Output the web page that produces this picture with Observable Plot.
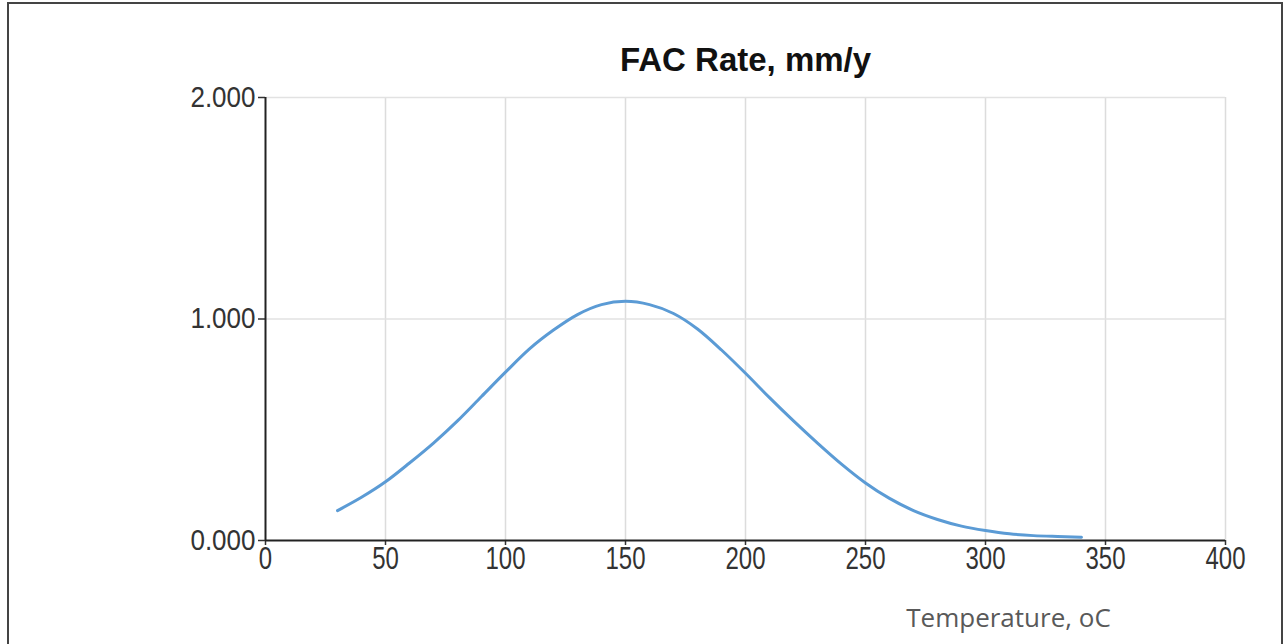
<!DOCTYPE html>
<html>
<head>
<meta charset="utf-8">
<script src="https://cdn.jsdelivr.net/npm/d3@7"></script>
<script src="https://cdn.jsdelivr.net/npm/@observablehq/plot@0.6"></script>
<style>
html, body { margin: 0; padding: 0; background: #fff; }
#wrap { position: relative; width: 1285px; height: 644px; overflow: hidden; background: #fff; }
#frame { position: absolute; left: 7px; top: 2px; width: 1272px; height: 700px; border: 2px solid #444; pointer-events: none; }
#wrap svg { position: absolute; left: 0; top: 0; }
</style>
</head>
<body>
<div id="wrap"><div id="frame"></div></div>
<script>
// Data
const temperature = [30, 40, 50, 60, 70, 80, 90, 100, 110, 120, 130, 140, 150, 160, 170, 180, 190, 200, 210, 220, 230, 240, 250, 260, 270, 280, 290, 300, 310, 320, 330, 340];
const facRate = [0.135, 0.195, 0.265, 0.35, 0.44, 0.54, 0.65, 0.76, 0.865, 0.95, 1.02, 1.065, 1.08, 1.065, 1.025, 0.955, 0.86, 0.755, 0.645, 0.54, 0.44, 0.345, 0.26, 0.19, 0.135, 0.095, 0.065, 0.045, 0.03, 0.022, 0.018, 0.015];
const xTicks = [0, 50, 100, 150, 200, 250, 300, 350, 400];
const yTicks = [0, 1, 2];
const titleText = "FAC Rate, mm/y";
const xLabelText = "Temperature, oC";

const data = temperature.map((t, i) => ({ t, r: facRate[i] }));

const chart = Plot.plot({
  width: 1285,
  height: 644,
  marginLeft: 265,
  marginRight: 60,
  marginTop: 97,
  marginBottom: 104,
  style: { background: "transparent", fontFamily: "'Liberation Sans', Arial, sans-serif", overflow: "visible" },
  x: { domain: [0, 400] },
  y: { domain: [0, 2] },
  marks: [
    Plot.gridX({ ticks: xTicks.filter(d => d > 0), stroke: "#dcdcdc", strokeOpacity: 1, strokeWidth: 1.5 }),
    Plot.gridY({ ticks: yTicks.filter(d => d > 0), stroke: "#e2e2e2", strokeOpacity: 1, strokeWidth: 1.5 }),
    Plot.axisY({ ticks: yTicks, tickFormat: d3.format(".3f"), tickSize: 7, tickPadding: 3, fontSize: 26, color: "#333", strokeWidth: 1.5, label: null }),
    Plot.axisX({ ticks: xTicks, tickFormat: d => String(d), tickSize: 5, tickPadding: 1, fontSize: 24, color: "#333", strokeWidth: 1.5, label: null }),
    Plot.ruleX([0], { stroke: "#222", strokeWidth: 2 }),
    Plot.ruleY([0], { stroke: "#222", strokeWidth: 2 }),
    Plot.line(data, { x: "t", y: "r", stroke: "#5b9bd5", strokeWidth: 3, curve: "monotone-x" }),
    Plot.text([titleText], { frameAnchor: "top", dy: -50, fontSize: 33, fontWeight: "bold", fill: "#111" }),
    Plot.text([xLabelText], { frameAnchor: "bottom", dx: 263, dy: 86, fontSize: 26, fontFamily: "'Open Sans', sans-serif", fill: "#595959" })
  ]
});

// Tick labels in the reference are vertically elongated
d3.select(chart).selectAll('g[aria-label="x-axis tick label"] text').each(function () {
  const t = this.getAttribute("transform") || "";
  this.setAttribute("transform", t + " scale(1,1.34)");
});
d3.select(chart).selectAll('g[aria-label="y-axis tick label"] text').each(function () {
  const t = this.getAttribute("transform") || "";
  this.setAttribute("transform", t + " scale(1,1.1)");
});

document.getElementById("wrap").appendChild(chart);
</script>
</body>
</html>
